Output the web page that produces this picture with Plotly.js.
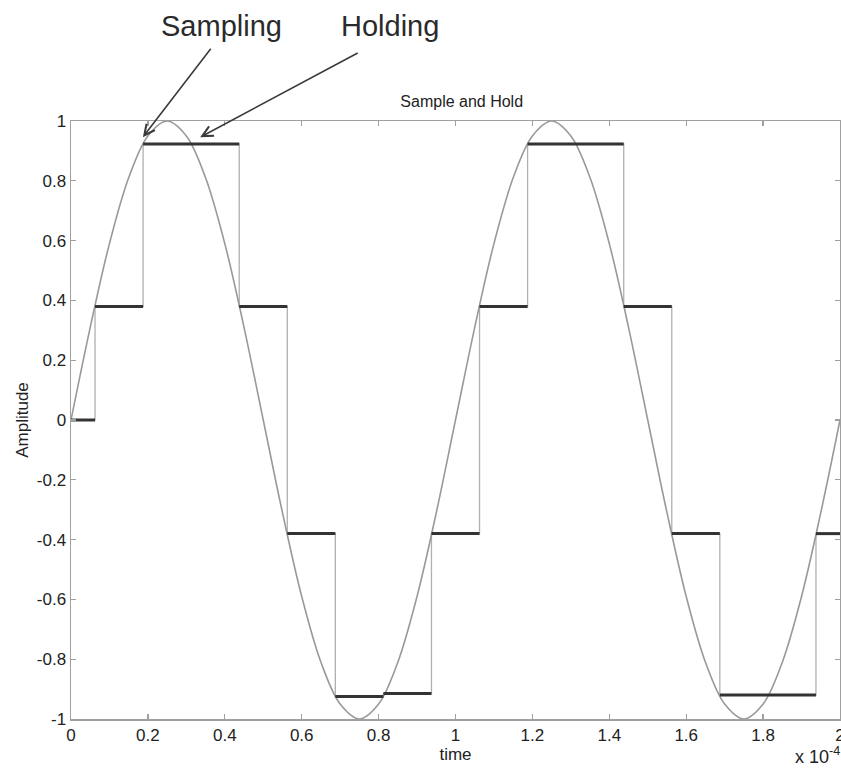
<!DOCTYPE html>
<html>
<head>
<meta charset="utf-8">
<script src="https://cdn.plot.ly/plotly-3.0.1.min.js"></script>
<style>html,body{margin:0;padding:0;background:#fff;}#chart{width:841px;height:770px;}</style>
</head>
<body>
<div id="chart"></div>
<script>
// Continuous sine (time in units of 1e-4 s)
const sineTime = [0,0.05,0.1,0.15,0.2,0.25,0.3,0.35,0.4,0.45,0.5,0.55,0.6,0.65,0.7,0.75,0.8,0.85,0.9,0.95,
  1,1.05,1.1,1.15,1.2,1.25,1.3,1.35,1.4,1.45,1.5,1.55,1.6,1.65,1.7,1.75,1.8,1.85,1.9,1.95,2];
const sineAmp = [0,0.31,0.59,0.81,0.95,1,0.95,0.81,0.59,0.31,0,-0.31,-0.59,-0.81,-0.95,-1,-0.95,-0.81,-0.59,-0.31,
  0,0.31,0.59,0.81,0.95,1,0.95,0.81,0.59,0.31,0,-0.31,-0.59,-0.81,-0.95,-1,-0.95,-0.81,-0.59,-0.31,0];

// Sample-and-hold: edges of each hold interval and held value
const holdEdges = [0,0.0625,0.1875,0.4375,0.5625,0.6875,0.8125,0.9375,1.0625,1.1875,1.4375,1.5625,1.6875,1.9375,2];
const holdValues = [0,0.38,0.923,0.38,-0.38,-0.925,-0.915,-0.38,0.38,0.923,0.38,-0.38,-0.92,-0.38];

const xTickVals = [0,0.2,0.4,0.6,0.8,1,1.2,1.4,1.6,1.8,2];
const xTickText = ['0','0.2','0.4','0.6','0.8','1','1.2','1.4','1.6','1.8','2'];
const yTickVals = [-1,-0.8,-0.6,-0.4,-0.2,0,0.2,0.4,0.6,0.8,1];
const yTickText = ['-1','-0.8','-0.6','-0.4','-0.2','0','0.2','0.4','0.6','0.8','1'];

// derived traces
const stairX = holdEdges.slice();
const stairY = holdValues.concat([holdValues[holdValues.length-1]]);
const segX = [], segY = [];
for (let i = 0; i < holdValues.length; i++) {
  segX.push(holdEdges[i], holdEdges[i+1], null);
  segY.push(holdValues[i], holdValues[i], null);
}

const FONT = 'Arial, Liberation Sans, sans-serif';
const traces = [
  {x: stairX, y: stairY, mode:'lines', line:{shape:'hv', color:'#b0b0b0', width:1.3}, hoverinfo:'skip'},
  {x: sineTime, y: sineAmp, mode:'lines', line:{shape:'spline', color:'#999999', width:1.6}},
  {x: segX, y: segY, mode:'lines', line:{color:'#333333', width:3}, connectgaps:false}
];

const axisCommon = {
  showline:true, mirror:'ticks', linecolor:'#a0a0a0', linewidth:1.5,
  ticks:'inside', ticklen:5, tickcolor:'#a0a0a0', tickwidth:1.2,
  showgrid:false, zeroline:false, ticklabeloverflow:'allow',
  tickfont:{family:FONT, size:17, color:'#222'}
};

const layout = {
  width:841, height:770,
  margin:{l:71, r:1, t:121, b:51},
  paper_bgcolor:'#fff', plot_bgcolor:'#fff',
  showlegend:false,
  title:{text:'Sample and Hold', font:{family:FONT, size:16, color:'#222'},
    xref:'container', x:0.549, xanchor:'center', yref:'container', y:1-101/770, yanchor:'middle'},
  xaxis: Object.assign({}, axisCommon, {range:[0,2], tickmode:'array', tickvals:xTickVals, ticktext:xTickText,
    title:{text:'time', font:{family:FONT, size:17, color:'#222'}, standoff:4}}),
  yaxis: Object.assign({}, axisCommon, {range:[-1,1], tickmode:'array', tickvals:yTickVals, ticktext:yTickText,
    title:{text:'Amplitude', font:{family:FONT, size:17, color:'#222'}, standoff:4}}),
  annotations:[
    {xref:'paper', yref:'paper', x:1.002, y:-0.038, xanchor:'right', yanchor:'top', showarrow:false,
     text:'x 10<sup>-4</sup>', font:{family:FONT, size:18, color:'#222'}},
    {xref:'x', yref:'y', x:0.187, y:0.946, text:'', showarrow:true, arrowhead:5, arrowsize:1.3, arrowwidth:1.6,
     arrowcolor:'#3a3a3a', axref:'pixel', ayref:'pixel', ax:69, ay:-90},
    {xref:'x', yref:'y', x:0.336, y:0.946, text:'', showarrow:true, arrowhead:5, arrowsize:1.3, arrowwidth:1.6,
     arrowcolor:'#3a3a3a', axref:'pixel', ayref:'pixel', ax:159, ay:-85},
    {xref:'paper', yref:'paper', x:(221-71)/769, y:(719-26)/598, xanchor:'center', yanchor:'middle', showarrow:false,
     text:'Sampling', font:{family:FONT, size:29, color:'#2a2a2a'}},
    {xref:'paper', yref:'paper', x:(390-71)/769, y:(719-26)/598, xanchor:'center', yanchor:'middle', showarrow:false,
     text:'Holding', font:{family:FONT, size:29, color:'#2a2a2a'}}
  ]
};

Plotly.newPlot('chart', traces, layout, {displayModeBar:false, staticPlot:true});
</script>
</body>
</html>
